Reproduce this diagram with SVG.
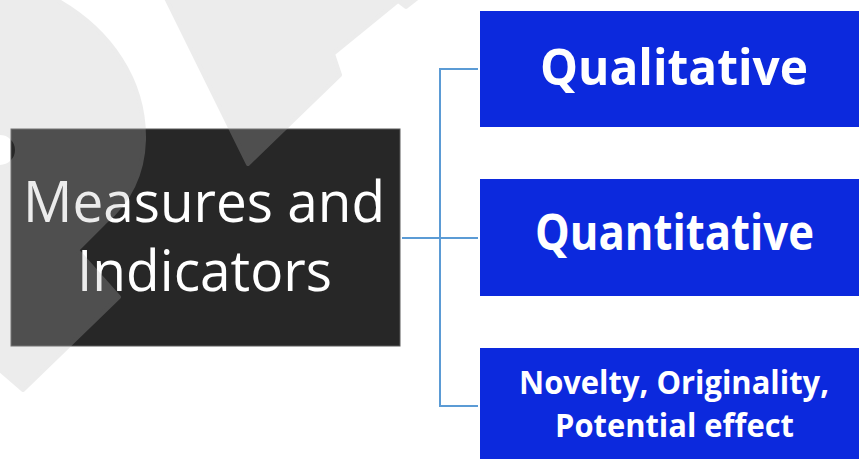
<svg xmlns="http://www.w3.org/2000/svg" width="859" height="459" viewBox="0 0 859 459">
<style>
.blue{fill:#0c29dd}
.bt{fill:#ffffff;font-family:"Open Sans","Liberation Sans",sans-serif;font-weight:bold}
.wt{fill:#ffffff;font-family:"Open Sans","Liberation Sans",sans-serif}
.conn{fill:none;stroke:#5b9bd5;stroke-width:2}
</style>
<rect width="859" height="459" fill="#ffffff"/>
<g id="connectors">
<line class="conn" x1="402" y1="238" x2="440" y2="238"/>
<polyline class="conn" points="478,69 440,69 440,406 478,406"/>
<line class="conn" x1="440" y1="238" x2="478" y2="238"/>
</g>
<g id="node-root">
<rect x="11" y="129" width="389" height="217" fill="#272727" stroke="#5a5a5a" stroke-width="1"/>
<text class="wt" x="23" y="222" font-size="56" textLength="362" lengthAdjust="spacingAndGlyphs">Measures and</text>
<text class="wt" x="77" y="291" font-size="56" textLength="255" lengthAdjust="spacingAndGlyphs">Indicators</text>
</g>
<g id="node-qualitative">
<rect class="blue" x="480" y="11" width="379" height="116"/>
<text class="bt" x="540" y="85" font-size="51" textLength="268" lengthAdjust="spacingAndGlyphs">Qualitative</text>
</g>
<g id="node-quantitative">
<rect class="blue" x="480" y="179" width="379" height="117"/>
<text class="bt" x="535" y="250" font-size="51" textLength="279" lengthAdjust="spacingAndGlyphs">Quantitative</text>
</g>
<g id="node-novelty">
<rect class="blue" x="480" y="348" width="379" height="111"/>
<text class="bt" x="519" y="394" font-size="32" textLength="310" lengthAdjust="spacingAndGlyphs">Novelty, Originality,</text>
<text class="bt" x="555" y="437" font-size="32" textLength="239" lengthAdjust="spacingAndGlyphs">Potential effect</text>
</g>
<g id="watermark" opacity="0.27" fill="#bababa" stroke="#bababa" stroke-width="4" stroke-linejoin="round">
<path d="M0,0 L57,0 C110,30 145,80 144,140 C143,175 128,203 104,223 L77,250 L119,297 L23,390 L0,370 L0,167 A17,17 0 0 0 0,133 Z"/>
<path d="M165,-4 L420,-4 L406,7 L398,1 L333,54 L340,75 L248,164 Z"/>
</g>
</svg>
